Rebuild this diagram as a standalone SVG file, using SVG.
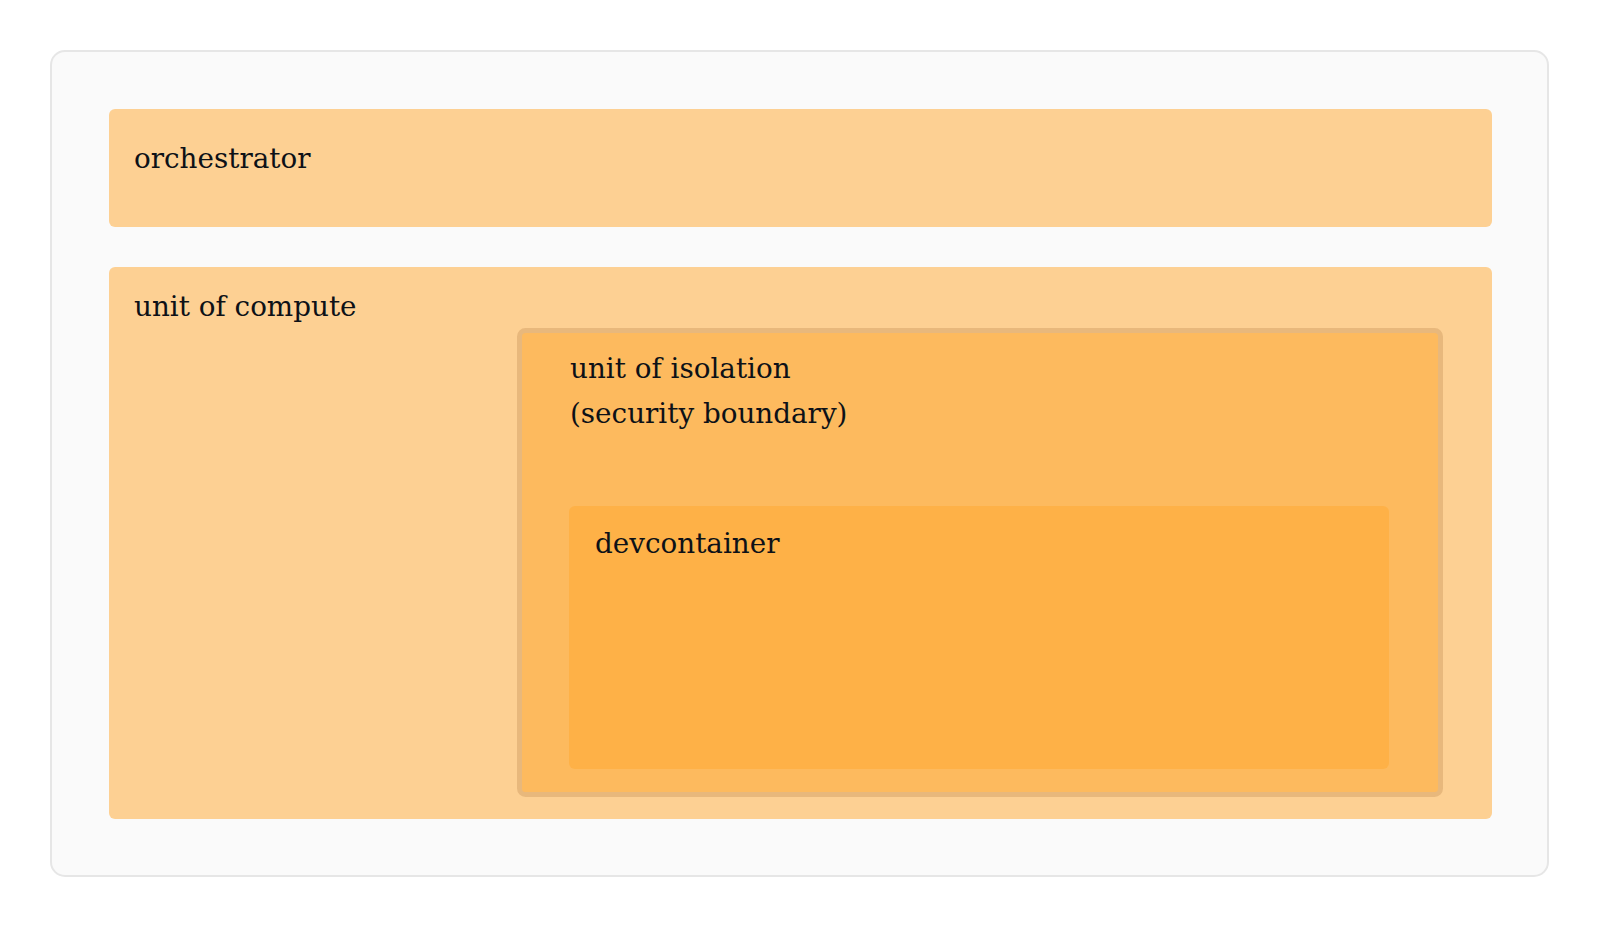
<svg xmlns="http://www.w3.org/2000/svg" width="1600" height="928" viewBox="0 0 1600 928">
  <style>
    .lbl { font-family: "DejaVu Serif", "Liberation Serif", serif; font-size: 27.8px; fill: #0d1117; }
    .tier { fill: #fdd093; }
  </style>
  <rect width="1600" height="928" fill="#ffffff"/>
  <g id="frame">
    <rect x="51" y="51" width="1497" height="825" rx="14" fill="#fafafa" stroke="#e6e6e6" stroke-width="2"/>
  </g>
  <g id="orchestrator">
    <rect class="tier" x="109" y="109" width="1383" height="118" rx="6"/>
    <text class="lbl" x="134" y="168">orchestrator</text>
  </g>
  <g id="unit-of-compute">
    <rect class="tier" x="109" y="267" width="1383" height="552" rx="6"/>
    <text class="lbl" x="134" y="316">unit of compute</text>
  </g>
  <g id="unit-of-isolation">
    <rect x="519.5" y="330.5" width="921" height="464" rx="6" fill="#fdba5e" stroke="#e8b87c" stroke-width="5"/>
    <text class="lbl" x="570" y="378">unit of isolation</text>
    <text class="lbl" x="570" y="423">(security boundary)</text>
  </g>
  <g id="devcontainer">
    <rect x="569" y="506" width="820" height="263" rx="6" fill="#feb147"/>
    <text class="lbl" x="595" y="553">devcontainer</text>
  </g>
  <g id="connectors"/>
</svg>
